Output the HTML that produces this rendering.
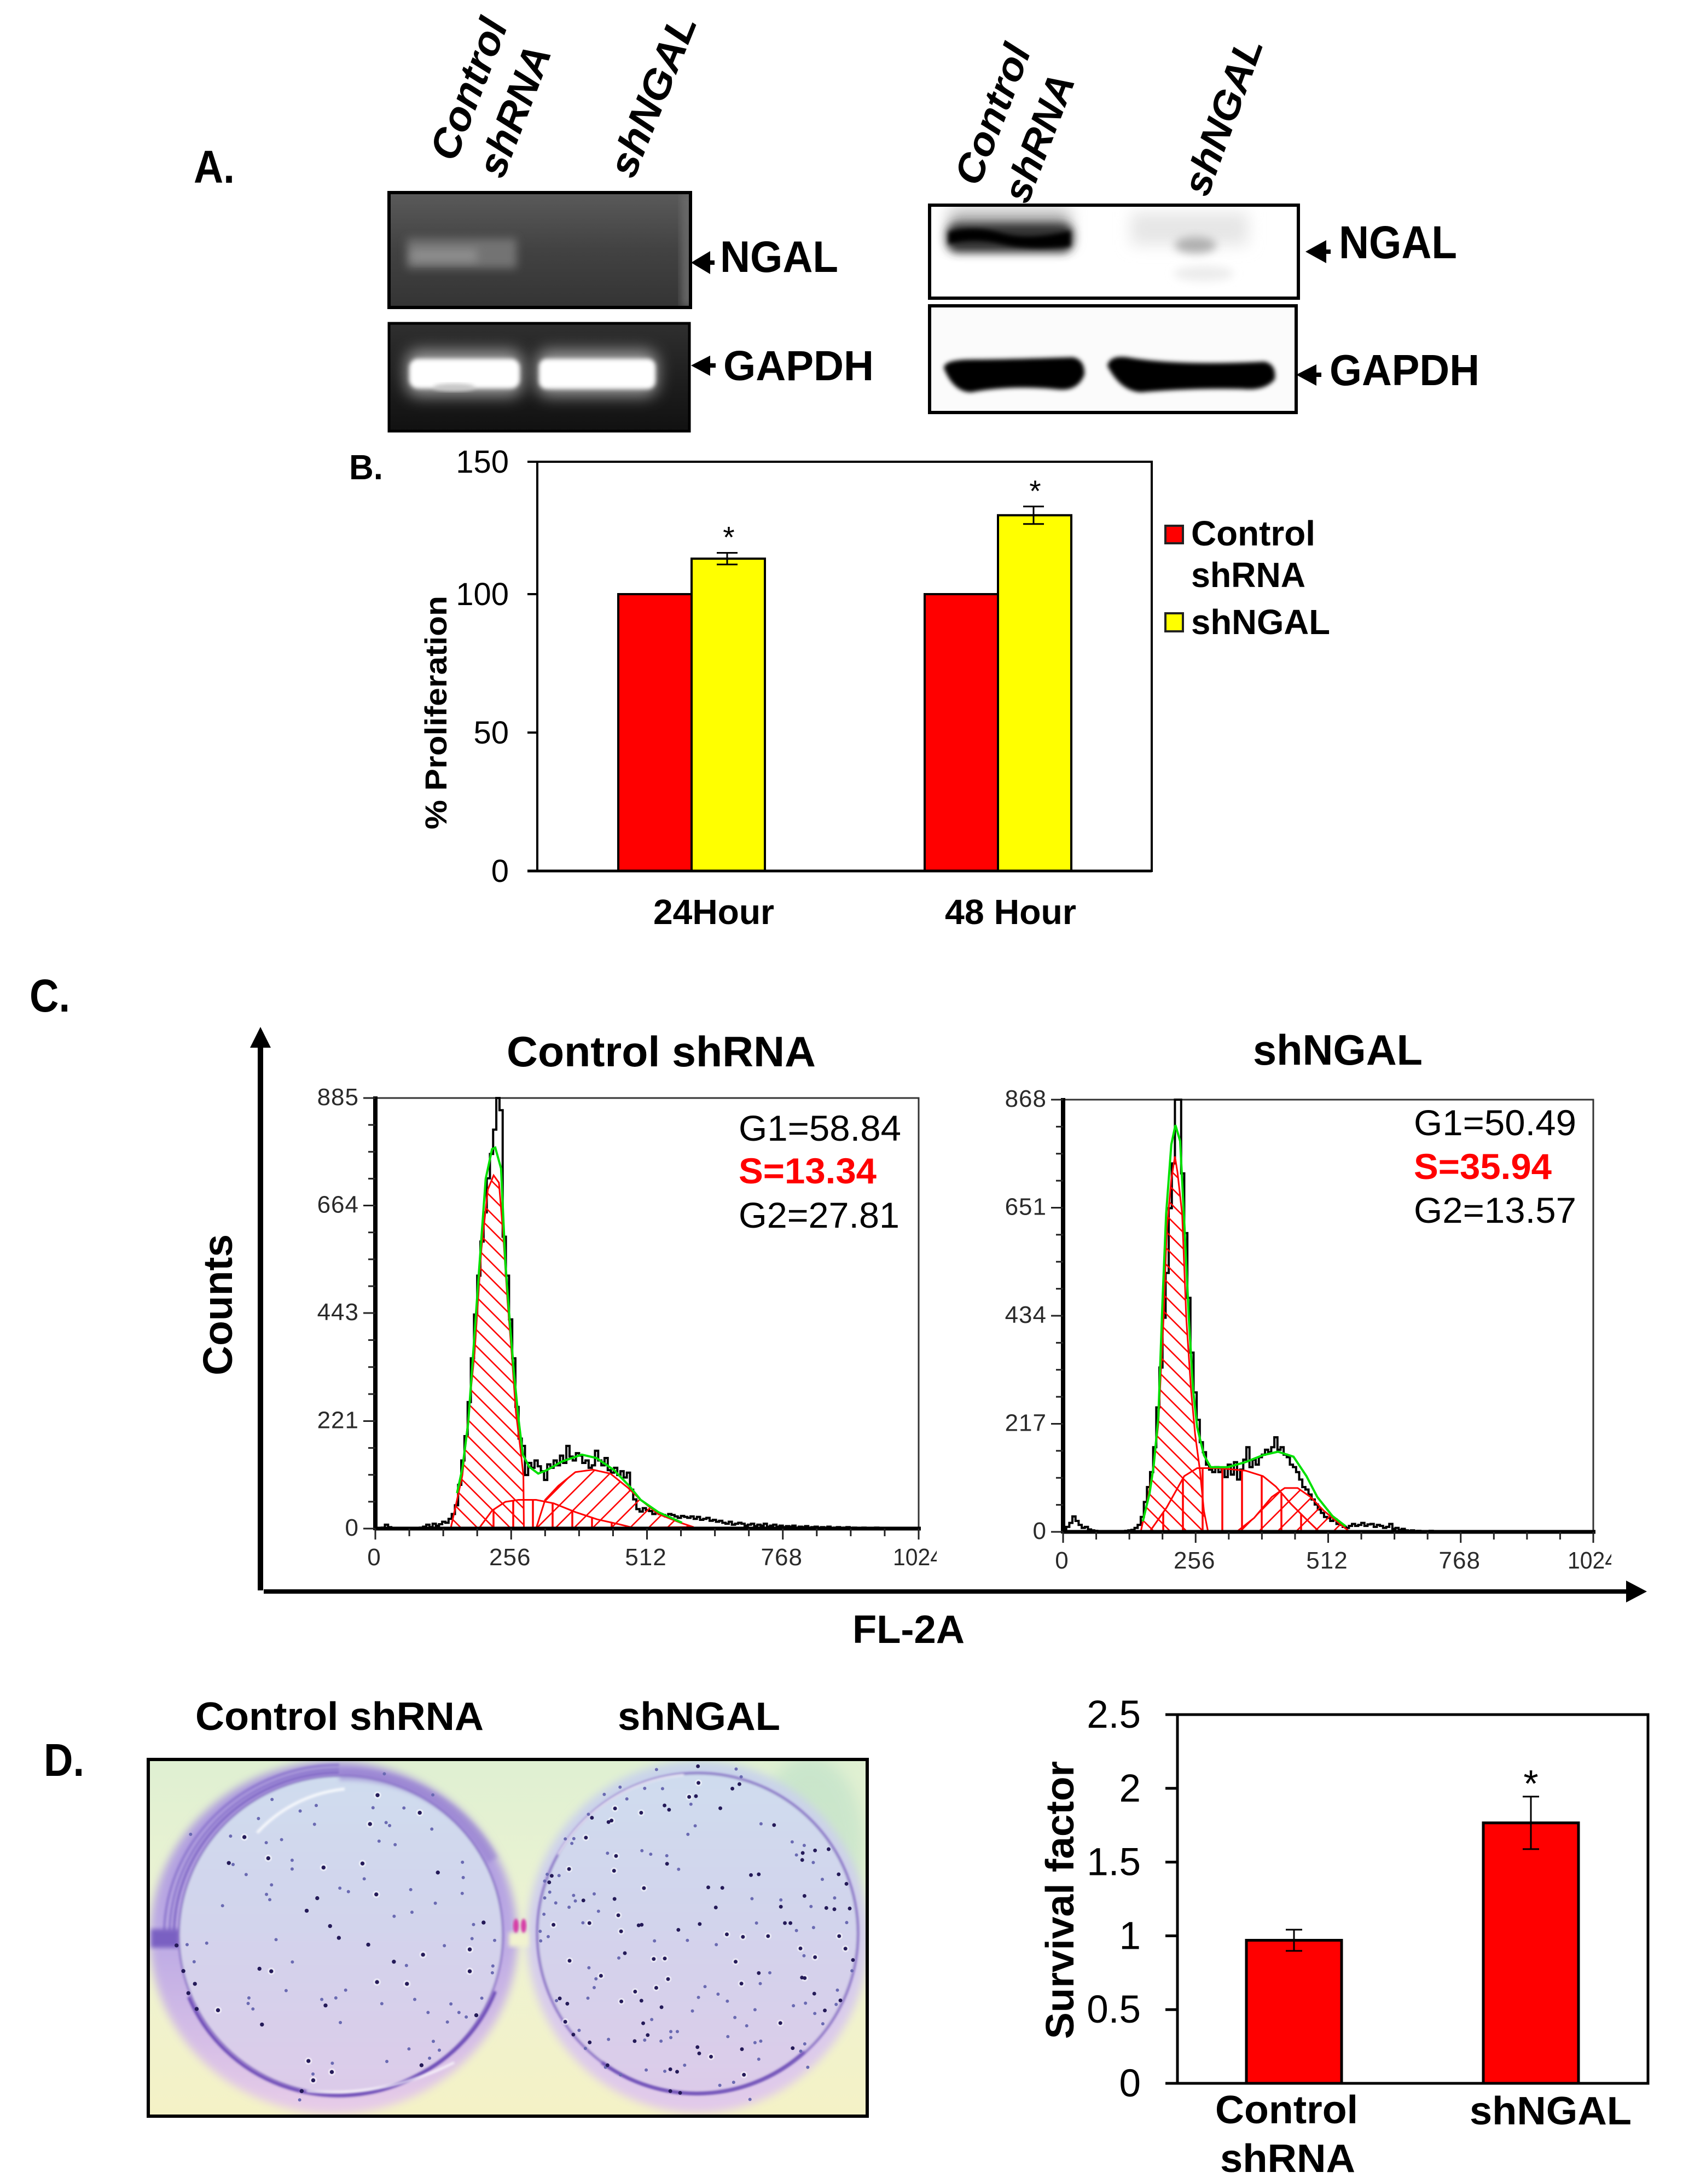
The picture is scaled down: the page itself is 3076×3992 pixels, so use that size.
<!DOCTYPE html>
<html lang="en">
<head>
<meta charset="utf-8">
<title>NGAL knockdown figure</title>
<style>
html,body{margin:0;padding:0;background:#fff;}
svg{display:block;}
text{font-family:"Liberation Sans",sans-serif;fill:#000;}
.b{font-weight:700;}
.rot{font-weight:700;font-style:italic;}
.thin{fill:#2a2a2a;}
</style>
</head>
<body>
<svg id="figure" xmlns="http://www.w3.org/2000/svg" width="3076" height="3992" viewBox="0 0 3076 3992">
<defs>
  <filter id="blur2" x="-20%" y="-20%" width="140%" height="140%"><feGaussianBlur stdDeviation="2"/></filter>
  <filter id="blur4" x="-20%" y="-20%" width="140%" height="140%"><feGaussianBlur stdDeviation="4"/></filter>
  <filter id="blur8" x="-30%" y="-50%" width="160%" height="200%"><feGaussianBlur stdDeviation="8"/></filter>
  <filter id="blur14" x="-40%" y="-80%" width="180%" height="260%"><feGaussianBlur stdDeviation="14"/></filter>
  <linearGradient id="gel1Fill" x1="0" y1="0" x2="0" y2="1"><stop offset="0" stop-color="#5a5a5a"/><stop offset=".5" stop-color="#424242"/><stop offset="1" stop-color="#343434"/></linearGradient>
  <linearGradient id="gel2Fill" x1="0" y1="0" x2="0" y2="1"><stop offset="0" stop-color="#2f2f2f"/><stop offset=".6" stop-color="#1c1c1c"/><stop offset="1" stop-color="#111"/></linearGradient>
  <linearGradient id="photoFill" x1="0" y1="0" x2="0" y2="1"><stop offset="0" stop-color="#dff0d2"/><stop offset=".5" stop-color="#eef3d2"/><stop offset="1" stop-color="#f4f2c6"/></linearGradient>
  <linearGradient id="outerLeft" x1="0" y1="0" x2="0" y2="1"><stop offset="0" stop-color="#a896dc"/><stop offset=".5" stop-color="#bcaae4"/><stop offset="1" stop-color="#e8cde8"/></linearGradient>
  <linearGradient id="outerRight" x1="0" y1="0" x2="0" y2="1"><stop offset="0" stop-color="#c8d4ea"/><stop offset=".5" stop-color="#d2cdec"/><stop offset="1" stop-color="#e2c9ea"/></linearGradient>
  <linearGradient id="innerPlate" x1="0" y1="0" x2="0" y2="1"><stop offset="0" stop-color="#cfdcee"/><stop offset=".45" stop-color="#d2d4ec"/><stop offset="1" stop-color="#dccbe9"/></linearGradient>
  <pattern id="hatchBack" patternUnits="userSpaceOnUse" width="30" height="30"><path d="M-3 -3L33 33M-33 -3L3 33M27 -3L63 33" stroke="#ff0000" stroke-width="2.6" fill="none"/></pattern>
  <pattern id="hatchForward" patternUnits="userSpaceOnUse" width="34" height="34"><path d="M-3 37L37 -3M-37 37L3 -3M31 37L71 -3" stroke="#ff0000" stroke-width="2.6" fill="none"/></pattern>
  <pattern id="hatchVertical" patternUnits="userSpaceOnUse" width="36" height="36"><path d="M2 0V36" stroke="#ff0000" stroke-width="3.5" fill="none"/></pattern>
  <clipPath id="gel1Clip"><rect x="711" y="352" width="551" height="210"/></clipPath>
  <clipPath id="gel2Clip"><rect x="711" y="591" width="549" height="197"/></clipPath>
  <clipPath id="blot1Clip"><rect x="1699" y="375" width="674" height="170"/></clipPath>
  <clipPath id="blot2Clip"><rect x="1699" y="559" width="670" height="195"/></clipPath>
  <clipPath id="photoClip"><rect x="271" y="3216" width="1314" height="652"/></clipPath>
</defs>

<!-- PANEL A -->
<text class="b" x="354" y="334" font-size="84" textLength="75" lengthAdjust="spacingAndGlyphs">A.</text>
<text class="rot" transform="translate(832 298) rotate(-69)" font-size="75" textLength="270" lengthAdjust="spacingAndGlyphs">Control</text>
<text class="rot" transform="translate(919 329) rotate(-69)" font-size="74" textLength="250" lengthAdjust="spacingAndGlyphs">shRNA</text>
<text class="rot" transform="translate(1158 329) rotate(-68)" font-size="74" textLength="312" lengthAdjust="spacingAndGlyphs">shNGAL</text>

<g>
  <g clip-path="url(#gel1Clip)">
    <rect x="711" y="352" width="551" height="210" fill="url(#gel1Fill)"/>
    <rect x="1246" y="352" width="22" height="210" fill="#6a6a6a" filter="url(#blur8)"/>
    <rect x="744" y="436" width="200" height="54" fill="#737373" filter="url(#blur8)"/>
    <rect x="752" y="456" width="120" height="22" fill="#8e8e8e" filter="url(#blur8)"/>
  </g>
  <rect x="711" y="352" width="551" height="210" fill="none" stroke="#000" stroke-width="6"/>
</g>
<g>
  <g clip-path="url(#gel2Clip)">
    <rect x="711" y="591" width="549" height="197" fill="url(#gel2Fill)"/>
    <rect x="742" y="640" width="214" height="84" rx="24" fill="#999" filter="url(#blur14)"/>
    <rect x="980" y="640" width="222" height="84" rx="24" fill="#999" filter="url(#blur14)"/>
    <rect x="748" y="656" width="202" height="54" rx="16" fill="#fff" filter="url(#blur4)"/>
    <rect x="985" y="656" width="213" height="55" rx="14" fill="#fff" filter="url(#blur4)"/>
    <ellipse cx="830" cy="708" rx="38" ry="7" fill="#c8c8c8" filter="url(#blur4)"/>
  </g>
  <rect x="711" y="591" width="549" height="197" fill="none" stroke="#000" stroke-width="5"/>
</g>
<path d="M1263 480L1298 459V476H1306V484H1298V501Z" fill="#000"/>
<path d="M1263 668L1298 650V664H1308V672H1298V687Z" fill="#000"/>
<text class="b" x="1316" y="497" font-size="81" textLength="216" lengthAdjust="spacingAndGlyphs">NGAL</text>
<text class="b" x="1322" y="695" font-size="77" textLength="275" lengthAdjust="spacingAndGlyphs">GAPDH</text>

<text class="rot" transform="translate(1789 343) rotate(-69)" font-size="72" textLength="268" lengthAdjust="spacingAndGlyphs">Control</text>
<text class="rot" transform="translate(1878 375) rotate(-69)" font-size="72" textLength="244" lengthAdjust="spacingAndGlyphs">shRNA</text>
<text class="rot" transform="translate(2207 362) rotate(-70)" font-size="72" textLength="300" lengthAdjust="spacingAndGlyphs">shNGAL</text>

<g>
  <g clip-path="url(#blot1Clip)">
    <rect x="1699" y="375" width="674" height="170" fill="#fff"/>
    <rect x="1735" y="384" width="220" height="60" fill="#b0b0b0" filter="url(#blur14)"/>
    <rect x="1730" y="408" width="232" height="54" rx="20" fill="#333" filter="url(#blur8)"/>
    <path d="M1734 424Q1780 412 1830 426T1956 422V450Q1880 458 1830 446T1734 446Z" fill="#000" filter="url(#blur4)"/>
    <rect x="2067" y="388" width="214" height="60" fill="#e6e6e6" filter="url(#blur14)"/>
    <ellipse cx="2185" cy="448" rx="38" ry="15" fill="#b0b0b0" filter="url(#blur8)"/>
    <ellipse cx="2200" cy="500" rx="55" ry="14" fill="#ececec" filter="url(#blur8)"/>
  </g>
  <rect x="1699" y="375" width="674" height="170" fill="none" stroke="#000" stroke-width="6"/>
</g>
<g>
  <g clip-path="url(#blot2Clip)">
    <rect x="1699" y="559" width="670" height="195" fill="#fbfbfb"/>
    <path d="M1728 672Q1730 660 1780 660T1960 656Q1980 660 1979 684Q1968 712 1935 709Q1850 700 1775 714Q1745 714 1728 672Z" fill="#000" stroke="#000" stroke-width="6" filter="url(#blur4)"/>
    <path d="M2027 668Q2032 652 2060 656Q2150 672 2310 664Q2330 668 2327 692Q2310 712 2270 708Q2180 706 2085 714Q2050 712 2027 668Z" fill="#000" stroke="#000" stroke-width="6" filter="url(#blur4)"/>
  </g>
  <rect x="1699" y="559" width="670" height="195" fill="none" stroke="#000" stroke-width="6"/>
</g>
<path d="M2386 460L2424 439V456H2432V464H2424V481Z" fill="#000"/>
<path d="M2369 685L2406 666V681H2415V689H2406V705Z" fill="#000"/>
<text class="b" x="2447" y="472" font-size="84" textLength="216" lengthAdjust="spacingAndGlyphs">NGAL</text>
<text class="b" x="2430" y="704" font-size="80" textLength="274" lengthAdjust="spacingAndGlyphs">GAPDH</text>

<!-- PANEL B -->
<text class="b" x="638" y="876" font-size="64" textLength="62" lengthAdjust="spacingAndGlyphs">B.</text>
<g id="chartB"></g>
<text class="b" transform="translate(816 1516) rotate(-90)" font-size="56" textLength="427" lengthAdjust="spacingAndGlyphs">% Proliferation</text>
<text class="b" x="1194" y="1689" font-size="64" textLength="221" lengthAdjust="spacingAndGlyphs">24Hour</text>
<text class="b" x="1727" y="1689" font-size="64" textLength="240" lengthAdjust="spacingAndGlyphs">48 Hour</text>
<g>
  <rect x="2130" y="961" width="32" height="32" fill="#ff0000" stroke="#222" stroke-width="4"/>
  <text class="b" x="2177" y="997" font-size="64" textLength="227" lengthAdjust="spacingAndGlyphs">Control</text>
  <text class="b" x="2177" y="1073" font-size="64" textLength="209" lengthAdjust="spacingAndGlyphs">shRNA</text>
  <rect x="2130" y="1121" width="32" height="33" fill="#ffff00" stroke="#222" stroke-width="4"/>
  <text class="b" x="2177" y="1159" font-size="64" textLength="254" lengthAdjust="spacingAndGlyphs">shNGAL</text>
</g>

<!-- PANEL C -->
<text class="b" x="54" y="1849" font-size="84" textLength="74" lengthAdjust="spacingAndGlyphs">C.</text>
<g><rect x="471" y="1910" width="10" height="997" fill="#000"/><path d="M476 1877L495 1915H457Z" fill="#000"/></g>
<g><rect x="482" y="2905" width="2492" height="8" fill="#000"/><path d="M3010 2909L2972 2889V2929Z" fill="#000"/></g>
<text class="b" transform="translate(424 2514) rotate(-90)" font-size="75" textLength="258" lengthAdjust="spacingAndGlyphs">Counts</text>
<text class="b" x="1558" y="3003" font-size="72" textLength="205" lengthAdjust="spacingAndGlyphs">FL-2A</text>
<text class="b" x="926" y="1949" font-size="78" textLength="565" lengthAdjust="spacingAndGlyphs">Control shRNA</text>
<text class="b" x="2290" y="1946" font-size="78" textLength="310" lengthAdjust="spacingAndGlyphs">shNGAL</text>
<g id="hist1"></g>
<g id="hist2"></g>
<text x="1350" y="2085" font-size="66" textLength="297" lengthAdjust="spacingAndGlyphs">G1=58.84</text>
<text class="b" x="1350" y="2163" font-size="66" textLength="252" lengthAdjust="spacingAndGlyphs" style="fill:#ff0000">S=13.34</text>
<text x="1350" y="2244" font-size="66" textLength="294" lengthAdjust="spacingAndGlyphs">G2=27.81</text>
<text x="2584" y="2075" font-size="66" textLength="297" lengthAdjust="spacingAndGlyphs">G1=50.49</text>
<text class="b" x="2584" y="2155" font-size="66" textLength="252" lengthAdjust="spacingAndGlyphs" style="fill:#ff0000">S=35.94</text>
<text x="2584" y="2235" font-size="66" textLength="297" lengthAdjust="spacingAndGlyphs">G2=13.57</text>

<!-- PANEL D -->
<text class="b" x="80" y="3246" font-size="84" textLength="74" lengthAdjust="spacingAndGlyphs">D.</text>
<text class="b" x="357" y="3162" font-size="72" textLength="527" lengthAdjust="spacingAndGlyphs">Control shRNA</text>
<text class="b" x="1129" y="3162" font-size="72" textLength="297" lengthAdjust="spacingAndGlyphs">shNGAL</text>

<g>
 <g clip-path="url(#photoClip)">
  <rect x="271" y="3216" width="1314" height="652" fill="url(#photoFill)"/>
  <ellipse cx="1480" cy="3380" rx="100" ry="170" fill="#b4dcc6" opacity=".5" filter="url(#blur14)"/>
  <g>
    <ellipse cx="610" cy="3542" rx="336" ry="322" fill="url(#outerLeft)" filter="url(#blur8)"/>
    <g filter="url(#blur2)">
      <path d="M300 3530A320 312 0 0 1 620 3226" fill="none" stroke="#8a74cc" stroke-width="4"/>
      <path d="M310 3530A312 302 0 0 1 620 3234" fill="none" stroke="#8a74cc" stroke-width="4"/>
      <path d="M318 3530A304 296 0 0 1 620 3240" fill="none" stroke="#7a62c2" stroke-width="4"/>
    </g>
    <rect x="276" y="3526" width="52" height="34" fill="#7a60c2" filter="url(#blur4)"/>
    <ellipse cx="623" cy="3537" rx="296" ry="291" fill="url(#innerPlate)" stroke="#7d60c0" stroke-width="3" filter="url(#blur2)"/>
    <path d="M345 3650A296 291 0 0 0 760 3795A296 291 0 0 0 905 3640" fill="none" stroke="#6a4ab6" stroke-width="6" filter="url(#blur2)"/>
    <path d="M470 3350A250 250 0 0 1 630 3270" fill="none" stroke="#fff" stroke-width="5" opacity=".85" filter="url(#blur2)"/>
    <path d="M560 3822Q700 3835 830 3770" fill="none" stroke="#fff" stroke-width="4" opacity=".85" filter="url(#blur2)"/>
    <path d="M620 3244A300 295 0 0 1 900 3400" fill="none" stroke="#8f78cc" stroke-width="22" opacity=".5" filter="url(#blur4)"/>
  </g>
  <g>
    <ellipse cx="1275" cy="3540" rx="312" ry="322" fill="url(#outerRight)" filter="url(#blur8)"/>
    <ellipse cx="1275" cy="3534" rx="293" ry="293" fill="url(#innerPlate)" stroke="#7d60c0" stroke-width="4" filter="url(#blur2)"/>
    <path d="M1100 3770A293 293 0 0 0 1470 3750" fill="none" stroke="#6a4ab6" stroke-width="5" filter="url(#blur2)"/>
    <path d="M1020 3390A293 293 0 0 1 1250 3244" fill="none" stroke="#fff" stroke-width="4" opacity=".8" filter="url(#blur2)"/>
  </g>
  <rect x="930" y="3532" width="36" height="26" fill="#f1f3cf" filter="url(#blur4)"/>
  <ellipse cx="943" cy="3520" rx="5" ry="13" fill="#d63ca6" filter="url(#blur2)"/>
  <ellipse cx="957" cy="3520" rx="5" ry="13" fill="#d63ca6" filter="url(#blur2)"/>

  <g transform="translate(240 3200) scale(.4592)" fill="none" stroke-linecap="round">
    <path stroke="#6a6ab2" stroke-width="13" d="M1007 92h.1M1200 176h.1M560 194h.1M506 270h.1M236 333h.1M395 340h.1M537 366h.1M598 354h.1M640 436h.1M640 471h.1M457 493h.1M558 534h.1M538 572h.1M551 593h.1M363 617h.1M405 453h.1M729 293h.1M736 218h.1M672 240h.1M962 227h.1M1085 228h.1M1028 298h.1M1014 286h.1M1196 312h.1M1050 374h.1M986 360h.1M927 510h.1M830 547h.1M864 561h.1M1318 444h.1M1321 505h.1M1317 568h.1M1210 607h.1M1112 553h.1M1046 659h.1M1117 643h.1M1362 692h.1M1356 748h.1M1246 776h.1M1446 755h.1M576 752h.1M300 766h.1M222 772h.1M250 840h.1M1095 855h.1M1439 857h.1M1437 884h.1M1272 1008h.1M1258 1080h.1M1333 1060h.1M1304 1042h.1M758 990h.1M814 984h.1M832 1082h.1M468 984h.1M465 1006h.1M484 1028h.1M853 953h.1M616 955h.1M641 841h.1M1017 1237h.1M1187 1224h.1M1105 1187h.1M1226 1192h.1M1202 1157h.1M800 1244h.1M723 1287h.1M1128 990h.1M997 1007h.1M1181 1042h.1M1395 985h.1M670 1390h.1"/>
    <path stroke="#fff" stroke-opacity=".45" stroke-width="30" d="M545 428h.1M980 177h.1M1148 247h.1M950 292h.1M450 344h.1M920 449h.1M765 465h.1M975 572h.1M557 878h.1M345 1033h.1M978 921h.1M1097 928h.1M1161 812h.1M1347 791h.1M1347 878h.1M798 1279h.1M705 1235h.1M724 1312h.1"/>
    <path stroke="#241a58" stroke-width="16" d="M545 428h.1M980 177h.1M1148 247h.1M950 292h.1M450 344h.1M920 449h.1M765 465h.1M975 572h.1M557 878h.1M345 1033h.1M978 921h.1M1097 928h.1M1161 812h.1M1347 791h.1M1347 878h.1M798 1279h.1M705 1235h.1M724 1312h.1M510 868h.1M1045 840h.1M943 772h.1M826 745h.1M791 698h.1M740 587h.1M698 637h.1M1220 485h.1M1155 1252h.1M1373 1053h.1M773 1014h.1M520 1090h.1M678 1355h.1M388 447h.1M1402 684h.1M180 775h.1M207 877h.1M227 965h.1M260 1028h.1M253 928h.1"/>
  </g>
  <g transform="translate(900 3200) scale(.4592)" fill="none" stroke-linecap="round">
    <path stroke="#6a6ab2" stroke-width="13" d="M653 75h.1M970 73h.1M990 104h.1M445 174h.1M535 192h.1M508 145h.1M606 150h.1M677 151h.1M790 213h.1M1069 291h.1M807 299h.1M778 333h.1M382 253h.1M290 351h.1M324 350h.1M316 369h.1M458 408h.1M595 398h.1M630 412h.1M694 418h.1M741 472h.1M1193 363h.1M1241 377h.1M1210 415h.1M1277 445h.1M1362 586h.1M1313 512h.1M218 492h.1M265 497h.1M208 519h.1M228 563h.1M208 586h.1M252 606h.1M305 623h.1M323 576h.1M405 570h.1M330 598h.1M1033 589h.1M1148 594h.1M1268 620h.1M205 651h.1M360 685h.1M422 639h.1M190 719h.1M222 740h.1M192 757h.1M1051 686h.1M1210 716h.1M1278 704h.1M1410 684h.1M645 757h.1M776 755h.1M891 772h.1M503 825h.1M1240 816h.1M384 864h.1M412 908h.1M405 943h.1M380 985h.1M255 995h.1M1104 884h.1M1066 927h.1M1431 876h.1M846 939h.1M898 969h.1M935 997h.1M820 982h.1M1198 1015h.1M1246 1005h.1M1373 953h.1M1368 1010h.1M796 1036h.1M1045 1031h.1M1283 1046h.1M1315 1087h.1M965 1062h.1M1012 1095h.1M634 1070h.1M710 1118h.1M736 1118h.1M710 1142h.1M606 1152h.1M671 1156h.1M462 1149h.1M345 1113h.1M1045 1162h.1M937 1138h.1M1068 1156h.1M1243 1167h.1M1227 1196h.1M370 1185h.1M612 1271h.1M686 1276h.1M765 1252h.1M1255 1260h.1M510 1290h.1M450 1260h.1M1025 1388h.1M960 1320h.1M905 1332h.1M1060 1228h.1"/>
    <path stroke="#fff" stroke-opacity=".45" stroke-width="28" d="M820 128h.1M783 184h.1M488 230h.1M592 247h.1M474 278h.1M372 346h.1M492 419h.1M484 478h.1M305 471h.1M603 547h.1M501 655h.1M243 693h.1M386 686h.1M512 719h.1M933 731h.1M997 741h.1M1097 738h.1M1380 738h.1M1226 787h.1M1284 822h.1M1405 788h.1M307 836h.1M642 829h.1M686 827h.1M968 840h.1M432 896h.1M699 909h.1M1243 905h.1M991 927h.1M652 944h.1M568 959h.1M513 998h.1M290 1079h.1M1146 1084h.1M870 1218h.1M1001 1290h.1"/>
    <path stroke="#241a58" stroke-width="15" d="M818 62h.1M820 128h.1M783 184h.1M810 181h.1M488 230h.1M592 247h.1M685 218h.1M703 235h.1M907 229h.1M955 151h.1M983 133h.1M474 278h.1M462 284h.1M396 267h.1M372 346h.1M492 419h.1M484 478h.1M305 471h.1M236 498h.1M226 524h.1M362 596h.1M486 590h.1M603 547h.1M695 450h.1M1121 296h.1M1338 392h.1M1233 435h.1M1284 397h.1M1235 407h.1M1409 530h.1M1378 492h.1M1242 578h.1M1060 492h.1M1029 495h.1M889 624h.1M915 546h.1M859 544h.1M1148 621h.1M1329 626h.1M1422 628h.1M1361 631h.1M501 655h.1M243 693h.1M386 686h.1M594 693h.1M582 695h.1M512 719h.1M740 713h.1M825 690h.1M933 731h.1M997 741h.1M1097 738h.1M1164 686h.1M1186 686h.1M1380 738h.1M1226 787h.1M1284 822h.1M1405 788h.1M1435 833h.1M307 836h.1M527 806h.1M642 829h.1M686 827h.1M968 840h.1M432 896h.1M699 909h.1M1060 885h.1M1243 905h.1M1232 903h.1M991 927h.1M652 944h.1M568 959h.1M268 986h.1M298 1007h.1M513 998h.1M593 995h.1M1281 967h.1M1385 994h.1M1323 1034h.1M673 1021h.1M290 1079h.1M600 1085h.1M1146 1084h.1M618 1132h.1M566 1156h.1M322 1130h.1M387 1161h.1M816 1180h.1M823 1205h.1M870 1218h.1M993 1188h.1M1195 1184h.1M708 1268h.1M735 1278h.1M1001 1290h.1M708 1355h.1M747 1362h.1M458 1252h.1"/>
  </g>
 </g>
 <rect x="271" y="3216" width="1314" height="652" fill="none" stroke="#000" stroke-width="6"/>
</g>

<g id="chartD"></g>
<text class="b" transform="translate(1962 3727) rotate(-90)" font-size="72" textLength="508" lengthAdjust="spacingAndGlyphs">Survival factor</text>
<text class="b" x="2221" y="3881" font-size="72" textLength="261" lengthAdjust="spacingAndGlyphs">Control</text>
<text class="b" x="2230" y="3970" font-size="72" textLength="247" lengthAdjust="spacingAndGlyphs">shRNA</text>
<text class="b" x="2686" y="3883" font-size="72" textLength="296" lengthAdjust="spacingAndGlyphs">shNGAL</text>

<script>
// ---------- Panel B data ----------
const prolifTickValues = [0, 50, 100, 150];
const prolifTickLabels = ['0', '50', '100', '150'];
const prolifControl = [100, 100];
const prolifShngal = [113.4, 129.8];
const prolifShngalError = [2.2, 3.3];

// ---------- Panel C data (counts in 6-channel bins; curves as channel/count pairs) ----------
const binWidth = 6;
const hist1YTicks = [0, 221, 443, 664, 885];
const hist2YTicks = [0, 217, 434, 651, 868];
const histXTicks = [0, 256, 512, 768, 1024];

const hist1Counts = [0,0,2,8,3,0,0,0,0,0,0,0,0,1,2,4,8,3,10,6,9,14,12,20,30,48,90,140,190,260,350,440,520,590,650,720,770,820,885,860,600,520,430,350,250,185,170,110,135,125,140,128,118,100,132,125,140,130,150,135,170,148,140,155,150,135,140,125,130,160,140,130,145,120,115,125,110,118,105,115,80,60,40,35,42,38,36,30,32,30,28,25,30,28,25,22,26,24,22,25,20,24,18,20,22,16,18,14,16,12,10,14,8,10,12,10,6,8,10,5,8,6,10,4,6,8,4,6,3,5,4,6,2,4,3,5,2,3,4,1,3,2,4,1,2,3,1,2,3,1,2,1,0,2,1,0,1,2,0,1,1,0,1,0,1,0,1,0,1,0,1];
const hist1FitChannels = [154,164,175,183,196,208,220,226,237,245,253,261,270,278,290,307,323,352,389,417,450,479,500,533,578];
const hist1FitCounts = [73,123,217,339,539,719,780,783,740,547,432,324,224,152,127,113,120,138,152,145,120,87,59,34,12];
const hist1G1Channels = [142,154,164,171,179,187,200,212,223,233,241,249,257,265,274,279,280];
const hist1G1Counts = [0,59,109,181,274,360,575,697,726,711,604,468,360,238,159,109,0];
const hist1SChannels = [195,220,245,270,303,336,377,418,459,492];
const hist1SCounts = [0,37,55,59,59,52,34,19,9,0];
const hist1G2Channels = [303,320,345,377,410,443,476,500,533,575,600];
const hist1G2Counts = [0,59,88,116,121,113,84,59,30,12,3];

const hist2Counts = [3,10,18,31,22,14,8,10,5,3,2,0,0,1,0,0,0,0,1,0,2,3,4,8,14,30,60,90,120,170,250,330,430,520,650,740,868,868,720,600,470,360,280,225,180,160,135,125,120,130,120,128,110,135,115,140,105,125,145,170,130,145,135,150,155,165,160,170,190,165,170,155,150,135,130,120,105,90,85,75,65,55,45,38,30,28,22,25,16,14,10,8,12,16,12,14,18,12,15,16,10,14,12,8,10,16,6,8,4,6,3,2,3,1,2,1,0,1,2,0,1,0,1,0,0,1,0,0,0,1,0,0,0,0,1,0,0,0,0,0,0,0,1,0,0,0,0,0,0,0,0,0,0,0,0,0,0,0,0,0,0,0,0,0,0,0,0,0,0,0,0];
const hist2FitChannels = [154,167,175,184,192,199,209,217,226,234,243,251,259,272,285,318,352,386,415,445,470,491,520,546];
const hist2FitCounts = [21,77,133,231,463,638,778,817,785,624,428,287,210,154,130,130,140,154,161,151,112,70,32,11];
const hist2G1Channels = [150,163,175,184,194,200,209,216,221,230,238,247,255,264,272,280];
const hist2G1Counts = [0,63,133,217,428,603,708,754,722,638,428,287,196,126,42,0];
const hist2SChannels = [167,200,234,259,301,352,386,411,440,470,495];
const hist2SCounts = [0,49,112,128,128,123,112,91,56,25,0];
const hist2G2Channels = [335,369,403,428,453,478,504,537,554];
const hist2G2Counts = [0,28,70,88,88,70,42,14,0];

// ---------- Panel D data ----------
const survivalTickValues = [0, 0.5, 1, 1.5, 2, 2.5];
const survivalTickLabels = ['0', '0.5', '1', '1.5', '2', '2.5'];
const survivalValues = [0.97, 1.766];
const survivalErrors = [0.072, 0.178];

// ---------- helpers ----------
const NS = 'http://www.w3.org/2000/svg';
function mk(tag, attrs, parent) {
  const e = document.createElementNS(NS, tag);
  for (const k in attrs) e.setAttribute(k, attrs[k]);
  parent.appendChild(e);
  return e;
}
function label(parent, name, x, y, str, size, anchor, cls) {
  const t = mk('text', {x: x, y: y, 'font-size': size, 'text-anchor': anchor}, parent);
  if (cls) t.setAttribute('class', cls);
  t.textContent = str;
  
  
  return t;
}
function errorBar(parent, name, x, yTop, yBottom, capHalf) {
  const p = mk('path', {d: 'M' + (x - capHalf) + ' ' + yTop + 'H' + (x + capHalf) + 'M' + x + ' ' + yTop + 'V' + yBottom + 'M' + (x - capHalf) + ' ' + yBottom + 'H' + (x + capHalf), fill: 'none', stroke: '#000', 'stroke-width': 3}, parent);
  
  
}

// ---------- Panel B ----------
(function () {
  const g = document.getElementById('chartB');
  const yB = function (v) {
    return v <= 100 ? 1592 - (v / 100) * 506 : 1086 - ((v - 100) / 50) * 242;
  };
  const groupX = function (i) { return 1264 + 560 * i; };
  const barW = 134;
  const frame = mk('path', {d: 'M982 844H2105V1592H982Z', fill: 'none', stroke: '#000', 'stroke-width': 4}, g);
  
  
  prolifTickValues.forEach(function (v, i) {
    const y = yB(v);
    const tick = mk('line', {x1: 964, x2: 982, y1: y, y2: y, stroke: '#000', 'stroke-width': 4}, g);
    
    
    label(g, 'proliferation-y-tick-label', 930, y + 20, prolifTickLabels[i], 58, 'end');
  });
  prolifControl.forEach(function (v, i) {
    const x = groupX(i);
    const y = yB(v);
    const bar = mk('rect', {x: x - barW, y: y, width: barW, height: 1592 - y, fill: '#ff0000', stroke: '#000', 'stroke-width': 4}, g);
    
    
  });
  prolifShngal.forEach(function (v, i) {
    const x = groupX(i);
    const y = yB(v);
    const bar = mk('rect', {x: x, y: y, width: barW, height: 1592 - y, fill: '#ffff00', stroke: '#000', 'stroke-width': 4}, g);
    
    
    const cx = x + 65;
    const yTop = yB(v + prolifShngalError[i]);
    errorBar(g, 'shngal-error-bar', cx, yTop, yB(v - prolifShngalError[i]), 19);
    label(g, 'significance-star', cx + 3, yTop - 10, '*', 55, 'middle');
  });
  const axis = mk('line', {x1: 964, x2: 2105, y1: 1592, y2: 1592, stroke: '#000', 'stroke-width': 5}, g);
  
  
})();

// ---------- Panel C ----------
function drawHist(g, left, right, top, bottom, yTicks, counts, fitX, fitY, g1X, g1Y, sX, sY, g2X, g2Y) {
  const yMax = yTicks[yTicks.length - 1];
  const x = function (c) { return left + (c / 1024) * (right - left); };
  const y = function (v) { return bottom - (v / yMax) * (bottom - top); };

  const frame = mk('path', {d: 'M' + left + ' ' + top + 'H' + right + 'V' + bottom, fill: 'none', stroke: '#333', 'stroke-width': 3}, g);
  
  

  // black raw trace as stair-steps
  let d = 'M' + x(0) + ' ' + y(counts[0]);
  counts.forEach(function (v, i) {
    d += 'H' + x(i * binWidth) + 'V' + y(Math.min(v, yMax)) + 'H' + x((i + 1) * binWidth);
  });
  const raw = mk('path', {d: d, fill: 'none', stroke: '#000', 'stroke-width': 4}, g);
  
  

  const poly = function (xs, ys) {
    return xs.map(function (c, i) { return (i ? 'L' : 'M') + x(c).toFixed(1) + ' ' + y(ys[i]).toFixed(1); }).join('');
  };
  const g1 = mk('path', {d: poly(g1X, g1Y) + 'Z', fill: 'url(#hatchBack)', stroke: '#ff0000', 'stroke-width': 3}, g);
  
  
  const s = mk('path', {d: poly(sX, sY) + 'Z', fill: 'url(#hatchVertical)', stroke: '#ff0000', 'stroke-width': 3}, g);
  
  
  const g2 = mk('path', {d: poly(g2X, g2Y) + 'Z', fill: 'url(#hatchForward)', stroke: '#ff0000', 'stroke-width': 3}, g);
  
  
  const fit = mk('path', {d: poly(fitX, fitY), fill: 'none', stroke: '#00e000', 'stroke-width': 4}, g);
  
  

  const spine = mk('path', {d: 'M' + left + ' ' + (top - 3) + 'V' + (bottom + 3), fill: 'none', stroke: '#000', 'stroke-width': 8}, g);
  
  
  const base = mk('path', {d: 'M' + left + ' ' + bottom + 'H' + (right + 4), fill: 'none', stroke: '#000', 'stroke-width': 7}, g);
  
  

  // y ticks: 4 divisions per major
  yTicks.forEach(function (v, i) {
    const py = y(v);
    const t = mk('line', {x1: left - 22, x2: left, y1: py, y2: py, stroke: '#222', 'stroke-width': 3}, g);
    
    
    const tl = label(g, 'histogram-y-tick-label', left - 30, py + 13, String(v), 44, 'end', 'thin');
    tl.setAttribute('letter-spacing', '1');
    if (i < yTicks.length - 1) {
      for (let k = 1; k < 4; k++) {
        const my = y(v + (yTicks[i + 1] - v) * k / 4);
        const m = mk('line', {x1: left - 13, x2: left, y1: my, y2: my, stroke: '#222', 'stroke-width': 3}, g);
        
        
      }
    }
  });
  // x ticks
  for (let c = 0; c <= 1024; c += 64) {
    const major = c % 256 === 0;
    const m = mk('line', {x1: x(c), x2: x(c), y1: bottom, y2: bottom + (major ? 20 : 14), stroke: '#222', 'stroke-width': 3}, g);
    
    
  }
  histXTicks.forEach(function (c, i) {
    if (i < histXTicks.length - 1) {
      const tl = label(g, 'histogram-x-tick-label', x(c) - 2, bottom + 67, String(c), 44, 'middle', 'thin');
      tl.setAttribute('letter-spacing', '1');
    } else {
      const cid = 'clip' + left;
      const cp = mk('clipPath', {id: cid}, g);
      mk('rect', {x: right - 60, y: bottom + 20, width: 93, height: 70}, cp);
      const tl = label(g, 'histogram-x-tick-label-clipped', right - 47, bottom + 67, String(c), 44, 'start', 'thin');
      tl.setAttribute('textLength', '91');
      tl.setAttribute('lengthAdjust', 'spacingAndGlyphs');
      tl.setAttribute('clip-path', 'url(#' + cid + ')');
    }
  });
}
drawHist(document.getElementById('hist1'), 686, 1679, 2007, 2794, hist1YTicks, hist1Counts, hist1FitChannels, hist1FitCounts, hist1G1Channels, hist1G1Counts, hist1SChannels, hist1SCounts, hist1G2Channels, hist1G2Counts);
drawHist(document.getElementById('hist2'), 1943, 2912, 2010, 2800, hist2YTicks, hist2Counts, hist2FitChannels, hist2FitCounts, hist2G1Channels, hist2G1Counts, hist2SChannels, hist2SCounts, hist2G2Channels, hist2G2Counts);

// ---------- Panel D chart ----------
(function () {
  const g = document.getElementById('chartD');
  const yS = function (v) { return 3808 - (v / 2.5) * 674; };
  const centerX = function (i) { return 2365 + 433 * i; };
  const frame = mk('path', {d: 'M2152 3134H3012V3808H2152Z', fill: 'none', stroke: '#000', 'stroke-width': 5}, g);
  
  
  survivalTickValues.forEach(function (v, i) {
    const y = yS(v);
    const t = mk('line', {x1: 2130, x2: 2152, y1: y, y2: y, stroke: '#000', 'stroke-width': 5}, g);
    
    
    label(g, 'survival-y-tick-label', 2085, y + 24, survivalTickLabels[i], 71, 'end');
  });
  survivalValues.forEach(function (v, i) {
    const cx = centerX(i);
    const y = yS(v);
    const bar = mk('rect', {x: cx - 87, y: y, width: 174, height: 3808 - y, fill: '#ff0000', stroke: '#000', 'stroke-width': 5}, g);
    
    
    const yTop = yS(v + survivalErrors[i]);
    errorBar(g, 'survival-error-bar', cx, yTop, yS(v - survivalErrors[i]), 15);
    if (i === 1) {
      label(g, 'survival-significance-star', cx, yTop - 0, '*', 70, 'middle');
    }
  });
})();
</script>
</svg>
</body>
</html>
